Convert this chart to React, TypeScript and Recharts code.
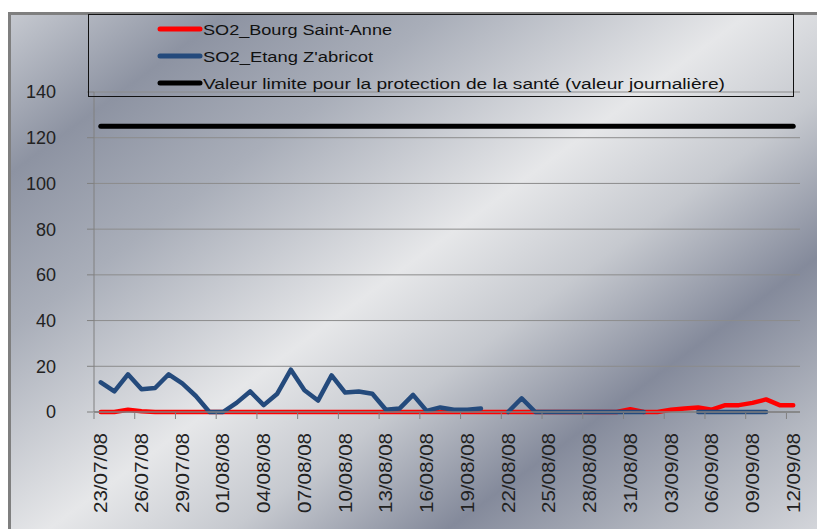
import { LineChart, Line, XAxis, YAxis, CartesianGrid } from "recharts";

// daily SO2 values, 23/07/08 -> 12/09/08
const dates = [
  "23/07/08", "24/07/08", "25/07/08", "26/07/08", "27/07/08", "28/07/08", "29/07/08",
  "30/07/08", "31/07/08", "01/08/08", "02/08/08", "03/08/08", "04/08/08", "05/08/08",
  "06/08/08", "07/08/08", "08/08/08", "09/08/08", "10/08/08", "11/08/08", "12/08/08",
  "13/08/08", "14/08/08", "15/08/08", "16/08/08", "17/08/08", "18/08/08", "19/08/08",
  "20/08/08", "21/08/08", "22/08/08", "23/08/08", "24/08/08", "25/08/08", "26/08/08",
  "27/08/08", "28/08/08", "29/08/08", "30/08/08", "31/08/08", "01/09/08", "02/09/08",
  "03/09/08", "04/09/08", "05/09/08", "06/09/08", "07/09/08", "08/09/08", "09/09/08",
  "10/09/08", "11/09/08", "12/09/08",
];

const bourgSaintAnne = [
  0, 0, 1, 0.3, 0, 0, 0, 0, 0, 0, 0, 0, 0, 0,
  0, 0, 0, 0, 0, 0, 0, 0, 0, 0, 0, 0, 0, 0,
  0, 0, 0, 0, 0, 0, 0, 0, 0, 0, 0, 1.2, 0, 0,
  1, 1.5, 2, 1, 3, 3, 4, 5.5, 3, 3,
];

const etangZabricot = [
  13, 9, 16.5, 10, 10.5, 16.5, 12.5, 7, 0, 0, 4, 9, 3, 8,
  18.5, 9.5, 5, 16, 8.5, 9, 8, 1, 1.5, 7.5, 0.5, 2, 1, 1,
  1.5, null, 0, 6, 0, 0, 0, 0, 0, 0, 0, 0, 0, null,
  null, null, 0, 0, 0, 0, 0, 0, null, null,
];

const LIMIT_VALUE = 125;
const yTicks = [0, 20, 40, 60, 80, 100, 120, 140];

const legendItems = [
  { label: "SO2_Bourg Saint-Anne", color: "#ff0000", length: 189 },
  { label: "SO2_Etang Z'abricot", color: "#244a7c", length: 170 },
  { label: "Valeur limite pour la protection de la santé (valeur journalière)", color: "#000000", length: 522 },
];

const WIDTH = 817;
const HEIGHT = 529;
const PLOT_LEFT = 94;
const PLOT_RIGHT = 800;
const HALF_BAND = (PLOT_RIGHT - PLOT_LEFT) / dates.length / 2;
const FONT = "'Liberation Sans', Arial, sans-serif";

const chartData = dates.map((date, i) => ({
  date,
  bourg: bourgSaintAnne[i],
  etang: etangZabricot[i],
  limite: LIMIT_VALUE,
}));

function DateTick({ x, y, payload }: any) {
  return (
    <g>
      <line
        x1={x - HALF_BAND}
        x2={x - HALF_BAND}
        y1={y + 1}
        y2={y + 7}
        stroke="#808080"
      />
      <text
        transform={`translate(${x},${y + 21}) rotate(-90)`}
        textAnchor="end"
        dy="0.36em"
        fontFamily={FONT}
        fontSize={18}
        fill="#222"
        textLength={80}
        lengthAdjust="spacingAndGlyphs"
      >
        {payload.value}
      </text>
    </g>
  );
}

function Background() {
  return (
    <svg width={WIDTH} height={HEIGHT} style={{ position: "absolute", left: 0, top: 0 }}>
      <defs>
        <linearGradient id="silver" gradientUnits="userSpaceOnUse" x1={0} y1={0} x2={539} y2={733}>
          <stop offset="0" stopColor="#cdd0d6" />
          <stop offset="0.16" stopColor="#8d93a2" />
          <stop offset="0.3" stopColor="#a9aeb9" />
          <stop offset="0.5" stopColor="#e6e7e9" />
          <stop offset="0.62" stopColor="#c6c9cf" />
          <stop offset="0.76" stopColor="#848a9b" />
          <stop offset="0.9" stopColor="#b4b8c1" />
          <stop offset="1" stopColor="#d3d5da" />
        </linearGradient>
      </defs>
      <rect x={9.5} y={13.5} width={820} height={530} fill="url(#silver)" stroke="#7f7f7f" strokeWidth={3} />
    </svg>
  );
}

function LegendBox() {
  return (
    <svg width={WIDTH} height={HEIGHT} style={{ position: "absolute", left: 0, top: 0, pointerEvents: "none" }}>
      <rect x={88.5} y={14.5} width={705} height={82} fill="none" stroke="#111" strokeWidth={1} />
      {legendItems.map((item, i) => {
        const cy = 29 + i * 27;
        return (
          <g key={item.label}>
            <line x1={160} x2={200} y1={cy} y2={cy} stroke={item.color} strokeWidth={5} strokeLinecap="round" />
            <text
              x={203}
              y={cy + 5.5}
              fontFamily={FONT}
              fontSize={15.5}
              fill="#111"
              textLength={item.length}
              lengthAdjust="spacingAndGlyphs"
            >
              {item.label}
            </text>
          </g>
        );
      })}
    </svg>
  );
}

export default function App() {
  return (
    <div style={{ position: "absolute", left: 0, top: 0, width: WIDTH, height: HEIGHT, overflow: "hidden", background: "#fff" }}>
      <Background />
      <div style={{ position: "absolute", left: 0, top: 0 }}>
        <LineChart
          width={WIDTH}
          height={HEIGHT}
          data={chartData}
          margin={{ top: 92, right: WIDTH - PLOT_RIGHT, left: 0, bottom: 0 }}
        >
          <CartesianGrid vertical={false} stroke="#8c8c8c" />
          <XAxis
            dataKey="date"
            interval={2}
            height={HEIGHT - 412}
            padding={{ left: HALF_BAND, right: HALF_BAND }}
            axisLine={{ stroke: "#808080", strokeWidth: 1.5 }}
            tickLine={false}
            tickSize={0}
            tickMargin={0}
            tick={<DateTick />}
          />
          <YAxis
            domain={[0, 140]}
            ticks={yTicks}
            width={PLOT_LEFT}
            axisLine={{ stroke: "#808080" }}
            tickLine={{ stroke: "#808080" }}
            tickSize={7}
            tickMargin={31}
            tick={{ fontFamily: FONT, fontSize: 18, fill: "#222" }}
          />
          <Line
            dataKey="limite"
            stroke="#000000"
            strokeWidth={5}
            strokeLinecap="round"
            dot={false}
            isAnimationActive={false}
          />
          <Line
            dataKey="bourg"
            stroke="#ff0000"
            strokeWidth={4.5}
            strokeLinecap="round"
            strokeLinejoin="round"
            dot={false}
            isAnimationActive={false}
          />
          <Line
            dataKey="etang"
            stroke="#244a7c"
            strokeWidth={4.5}
            strokeLinecap="round"
            strokeLinejoin="round"
            dot={false}
            isAnimationActive={false}
          />
        </LineChart>
      </div>
      <LegendBox />
    </div>
  );
}
